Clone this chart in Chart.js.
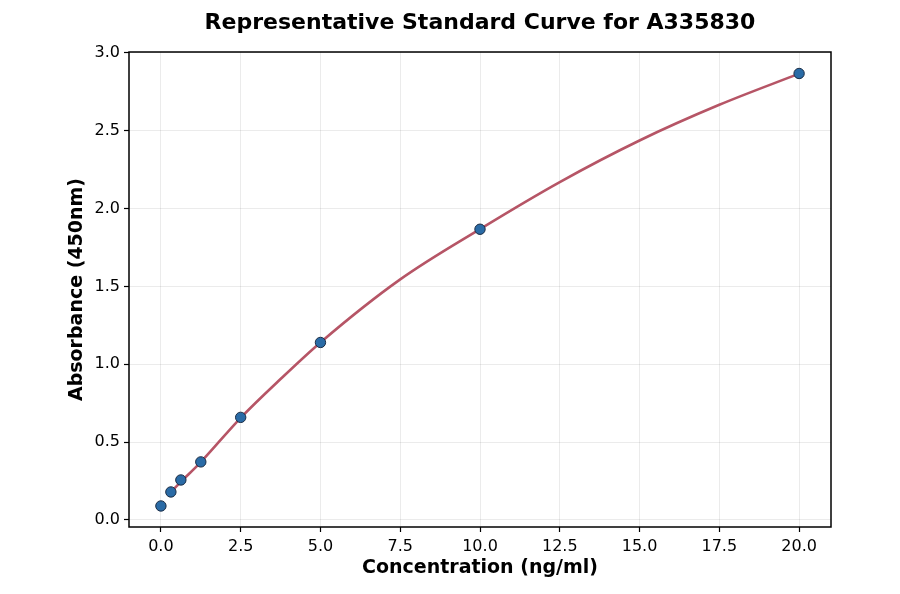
<!DOCTYPE html>
<html>
<head>
<meta charset="utf-8">
<script src="https://cdn.jsdelivr.net/npm/chart.js@4.4.1/dist/chart.umd.min.js"></script>
<style>
  html, body { margin: 0; padding: 0; background: #fff; }
  #wrap { width: 900px; height: 594px; }
</style>
</head>
<body>
<div id="wrap"><canvas id="curve"></canvas></div>
<script>
// standards
const stdConc = [0, 0.3125, 0.625, 1.25, 2.5, 5, 10, 20];
const stdAbs = [0.09, 0.18, 0.257, 0.373, 0.659, 1.14, 1.867, 2.867];

// fitted curve, sampled by eye from the red line
const fitConc = [0.3125, 0.625, 1.25, 2.5, 3.75, 5, 7.5, 10, 12.5, 15, 17.5, 20];
const fitAbs = [0.18, 0.245, 0.372, 0.656, 0.905, 1.14, 1.545, 1.868, 2.17, 2.437, 2.666, 2.866];

const xTicks = [0, 2.5, 5, 7.5, 10, 12.5, 15, 17.5, 20];
const yTicks = [0, 0.5, 1, 1.5, 2, 2.5, 3];

function toPoints(xs, ys) {
    return xs.map((x, i) => ({ x: x, y: ys[i] }));
}

// black box round the plot area, like a matplotlib frame
const frame = {
    id: 'frame',
    afterDatasetsDraw(chart) {
        const { ctx, chartArea: a } = chart;
        ctx.save();
        ctx.strokeStyle = '#000';
        ctx.lineWidth = 1.5;
        ctx.strokeRect(a.left, a.top, a.right - a.left, a.bottom - a.top);
        ctx.restore();
    }
};

const tickFont = { family: 'DejaVu Sans', size: 16 };
const labelFont = { family: 'DejaVu Sans', size: 19, weight: 'bold' };

new Chart(document.getElementById('curve'), {
    type: 'scatter',
    data: {
        datasets: [{
            label: 'Standards',
            data: toPoints(stdConc, stdAbs),
            pointRadius: 5.2,
            pointBackgroundColor: '#2a6ba6',
            pointBorderColor: '#1b2d45',
            pointBorderWidth: 1,
            showLine: false
        }, {
            label: 'Fit',
            data: toPoints(fitConc, fitAbs),
            showLine: true,
            pointRadius: 0,
            borderColor: '#b65566',
            borderWidth: 2.6,
            cubicInterpolationMode: 'monotone',
            fill: false
        }]
    },
    plugins: [frame],
    options: {
        responsive: true,
        maintainAspectRatio: false,
        animation: false,
        layout: { padding: { left: 0, right: 69, top: 0, bottom: 0 } },
        plugins: {
            legend: { display: false },
            tooltip: { enabled: false },
            title: {
                display: true,
                text: 'Representative Standard Curve for A335830',
                fullSize: false,
                color: '#000',
                font: { family: 'DejaVu Sans', size: 22, weight: 'bold', lineHeight: 1.2 },
                padding: { top: 10, bottom: 15.6 }
            }
        },
        scales: {
            x: {
                type: 'linear',
                min: -1,
                max: 21,
                afterFit: scale => { scale.height = 67; },
                afterBuildTicks: scale => { scale.ticks = xTicks.map(v => ({ value: v })); },
                ticks: {
                    color: '#000',
                    font: tickFont,
                    padding: 5,
                    maxRotation: 0,
                    callback: v => Number(v).toFixed(1)
                },
                grid: {
                    color: 'rgba(0,0,0,0.1)',
                    lineWidth: 0.8,
                    tickColor: '#000',
                    tickLength: 5,
                    tickWidth: 1.2
                },
                border: { display: false },
                title: {
                    display: true,
                    text: 'Concentration (ng/ml)',
                    color: '#000',
                    font: labelFont,
                    padding: { top: 0, bottom: 14.6 }
                }
            },
            y: {
                type: 'linear',
                min: -0.045,
                max: 3.005,
                afterFit: scale => { scale.width = 129; },
                afterBuildTicks: scale => { scale.ticks = yTicks.map(v => ({ value: v })); },
                ticks: {
                    color: '#000',
                    font: tickFont,
                    padding: 4,
                    callback: v => Number(v).toFixed(1)
                },
                grid: {
                    color: 'rgba(0,0,0,0.1)',
                    lineWidth: 0.8,
                    tickColor: '#000',
                    tickLength: 5,
                    tickWidth: 1.2
                },
                border: { display: false },
                title: {
                    display: true,
                    text: 'Absorbance (450nm)',
                    color: '#000',
                    font: labelFont,
                    padding: { top: 65.6, bottom: 0 }
                }
            }
        }
    }
});
</script>
</body>
</html>
